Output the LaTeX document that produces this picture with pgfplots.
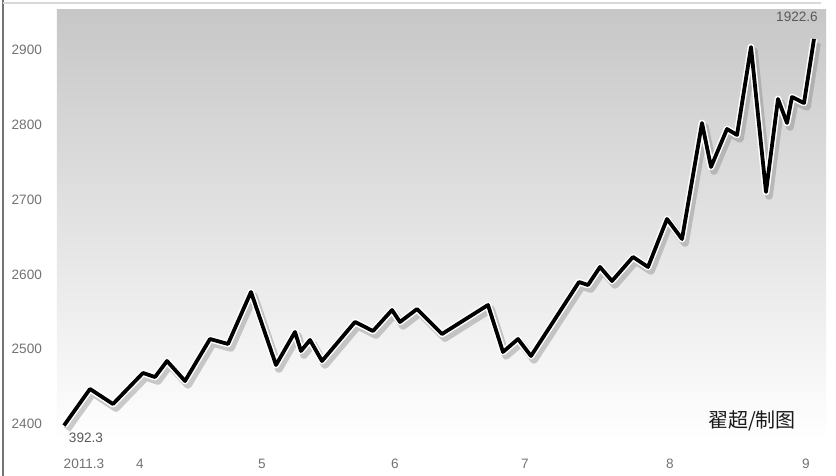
\documentclass[border=0pt]{standalone}
\usepackage{pgfplots}
\pgfplotsset{compat=1.18}
\usepackage{pgfplotstable}
\usepackage{fontspec}
\setmainfont{Liberation Sans}
\newfontfamily\cjk{Noto Sans CJK SC}
\pgfplotstableread{
x y
64 2398.0
90 2446.8
113 2426.7
143 2468.2
155 2462.8
167 2484.2
185 2457.5
210 2513.6
228 2507.0
251 2576.5
276 2478.9
295 2523.0
301 2497.6
310 2512.3
322 2484.2
355 2536.4
373 2524.3
392 2552.4
400 2536.4
417 2553.7
442 2520.3
488 2559.1
503 2496.3
518 2513.6
531 2490.9
579 2589.8
588 2585.8
600 2609.9
612 2591.2
633 2623.3
648 2609.9
667 2674.1
682 2647.3
702 2802.4
711 2743.6
727 2794.4
737 2786.4
751 2904.0
766 2710.2
778 2834.5
787 2802.4
792 2837.2
804 2829.1
814 2914.7
}\data
\begin{document}
\begin{tikzpicture}
\useasboundingbox (-28.5pt,-18pt) rectangle (389.5pt,220pt);
\fill[white] (-28.5pt,-18pt) rectangle (389.5pt,220pt);
\draw[black!55, line width=0.8pt] (-27pt,-18pt) -- (-27pt,220pt);
\draw[black!15, line width=0.6pt] (-27pt,218.5pt) -- (382pt,218.5pt);
\begin{axis}[
  at={(0,0)}, anchor=south west,
  x=0.5pt, y=0.374pt,
  xmin=57, xmax=826, ymin=2378.6, ymax=2953.5,
  axis line style={draw=none},
  major tick length=0pt,
  tick style={draw=none},
  axis background/.style={top color=black!22, bottom color=white},
  xtick={84,140,262,395,525,670,806},
  xticklabels={2011.3,4,5,6,7,8,9},
  ytick={2400,2500,2600,2700,2800,2900},
  tick label style={font=\fontsize{6.8}{8}\selectfont, text=black!55},
  yticklabel style={xshift=-4pt},
  xticklabel style={yshift=-6pt},
  /pgf/number format/assume math mode=true,
  /pgf/number format/set thousands separator={},
  clip=false,
]
\addplot[black!50, opacity=0.4, line width=3.8pt, line join=round, xshift=1.5pt, yshift=-2pt] table {\data};
\addplot[white, line width=3.4pt, line join=round] table {\data};
\addplot[black, line width=1.9pt, line join=round] table {\data};
\node[font=\fontsize{6.8}{8}\selectfont, text=black!65] at (axis cs:86,2381) {392.3};
\node[font=\fontsize{6.8}{8}\selectfont, text=black!65] at (axis cs:797,2944) {1922.6};
\node[font=\cjk\fontsize{10}{12}\selectfont, text=black!90] at (axis cs:752,2404) {翟超/制图};
\end{axis}
\end{tikzpicture}
\end{document}
